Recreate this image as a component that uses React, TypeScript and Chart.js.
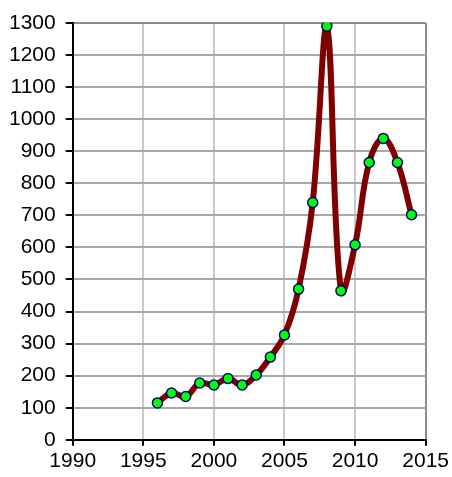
import React, { useEffect, useRef } from "react";
import { Chart, registerables } from "chart.js";

Chart.register(...registerables);

const years = [1996, 1997, 1998, 1999, 2000, 2001, 2002, 2003, 2004, 2005, 2006, 2007, 2008, 2009, 2010, 2011, 2012, 2013, 2014];
const values = [115, 146, 135, 177, 171, 191, 171, 202, 258, 327, 470, 740, 1290, 465, 608, 865, 940, 865, 702];
const xTicks = [1990, 1995, 2000, 2005, 2010, 2015];
const yMax = 1300;

export default function App() {
  const ref = useRef<HTMLCanvasElement>(null);
  useEffect(() => {
    document.body.style.margin = "0";
    const ctx = ref.current!;
    const chart = new Chart(ctx, {
      type: "line",
      data: {
        datasets: [
          {
            data: years.map((y, i) => ({ x: y, y: values[i] })),
            borderColor: "#800000",
            borderWidth: 6,
            borderCapStyle: "round",
            borderJoinStyle: "round",
            tension: 0.4,
            pointRadius: 5,
            pointBackgroundColor: "#00ff00",
            pointBorderColor: "#000080",
            pointBorderWidth: 1.5,
            fill: false,
          },
        ],
      },
      options: {
        animation: false,
        responsive: false,
        maintainAspectRatio: false,
        plugins: { legend: { display: false }, tooltip: { enabled: false } },
        layout: { padding: { left: -1, top: 23, right: -2, bottom: 0 } },
        scales: {
          x: {
            type: "linear",
            min: xTicks[0],
            max: xTicks[xTicks.length - 1],
            afterBuildTicks: (axis: any) => {
              axis.ticks = xTicks.map((v) => ({ value: v }));
            },
            ticks: {
              callback: (v: any) => String(v),
              font: { family: "Liberation Sans, Arial", size: 21 },
              color: "#000",
              padding: 3,
              maxRotation: 0,
            },
            grid: {
              color: (c: any) => (c.index === xTicks.length - 1 ? "#8c8c8c" : "#c8c8c8"),
              lineWidth: 2,
              tickColor: "#000",
              tickLength: 6,
            },
            border: { color: "#000", width: 2 },
          },
          y: {
            min: 0,
            max: yMax,
            ticks: {
              stepSize: 100,
              callback: (v: any) => String(v),
              font: { family: "Liberation Sans, Arial", size: 21 },
              color: "#000",
              padding: 10,
            },
            grid: {
              color: (c: any) => (c.tick && c.tick.value === yMax ? "#8c8c8c" : "#a8a8a8"),
              lineWidth: 2,
              tickColor: "#000",
              tickLength: 7,
            },
            border: { color: "#000", width: 2 },
          },
        },
      },
    });
    return () => chart.destroy();
  }, []);
  return (
    <div style={{ position: "absolute", left: 0, top: 0, width: 452, height: 477 }}>
      <canvas ref={ref} width={452} height={477} style={{ width: 452, height: 477 }} />
    </div>
  );
}
